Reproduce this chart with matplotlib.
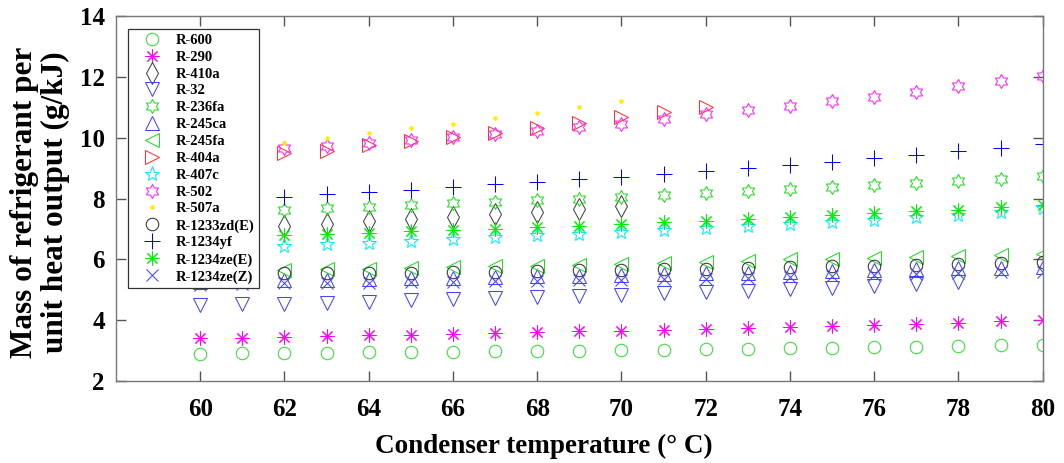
import numpy as np
import matplotlib
matplotlib.use("Agg")
import matplotlib.pyplot as plt
from matplotlib.path import Path

# condenser temperature (deg C)
temps = list(range(60, 81))

r600 = [2.90, 2.91, 2.92, 2.93, 2.94, 2.95, 2.96, 2.98, 2.99, 3.00, 3.02,
        3.03, 3.05, 3.06, 3.08, 3.09, 3.11, 3.13, 3.15, 3.17, 3.19]
r290 = [3.40, 3.43, 3.45, 3.48, 3.50, 3.53, 3.55, 3.58, 3.60, 3.63, 3.66,
        3.69, 3.72, 3.75, 3.78, 3.81, 3.85, 3.88, 3.92, 3.96, 4.00]
r410a = [7.00, 7.05, 7.10, 7.17, 7.25, 7.32, 7.40, 7.49, 7.57, 7.67, 7.77]
r32 = [4.50, 4.52, 4.55, 4.58, 4.61, 4.65, 4.69, 4.72, 4.76, 4.80, 4.84,
       4.88, 4.92, 4.97, 5.02, 5.07, 5.13, 5.19, 5.27]
r236fa = [7.50, 7.57, 7.64, 7.69, 7.74, 7.79, 7.84, 7.89, 7.95, 8.00, 8.06,
          8.12, 8.19, 8.26, 8.33, 8.39, 8.45, 8.52, 8.58, 8.65, 8.74]
r245ca = [5.27, 5.30, 5.32, 5.34, 5.36, 5.38, 5.40, 5.42, 5.44, 5.46, 5.49,
          5.51, 5.54, 5.57, 5.60, 5.63, 5.65, 5.68, 5.71, 5.73, 5.76]
r245fa = [5.60, 5.62, 5.65, 5.67, 5.70, 5.72, 5.74, 5.77, 5.80, 5.82, 5.85,
          5.88, 5.92, 5.96, 6.00, 6.03, 6.06, 6.09, 6.12, 6.15, 6.18]
r404a = [9.32, 9.40, 9.49, 9.57, 9.76, 9.90, 10.04, 10.17, 10.31, 10.49,
         10.69, 10.84, 11.03]
r407c = [6.35, 6.40, 6.44, 6.50, 6.55, 6.61, 6.67, 6.73, 6.79, 6.85, 6.91,
         6.97, 7.03, 7.10, 7.16, 7.23, 7.30, 7.38, 7.46, 7.56, 7.68]
r502 = [9.45, 9.55, 9.65, 9.74, 9.84, 9.94, 10.04, 10.14, 10.22, 10.36, 10.47,
        10.62, 10.77, 10.91, 11.05, 11.20, 11.35, 11.52, 11.70, 11.86, 12.04]
r507a = [9.55, 9.70, 9.84, 10.00, 10.15, 10.31, 10.47, 10.64, 10.83, 11.02, 11.21]
r1233zd = [5.52, 5.53, 5.54, 5.55, 5.56, 5.57, 5.59, 5.60, 5.62, 5.64, 5.66,
           5.68, 5.70, 5.72, 5.75, 5.77, 5.80, 5.83, 5.86, 5.89, 5.92]
r1234yf = [7.95, 8.00, 8.06, 8.14, 8.22, 8.30, 8.39, 8.47, 8.55, 8.63, 8.72,
           8.81, 8.91, 9.01, 9.11, 9.21, 9.32, 9.44, 9.57, 9.68, 9.80]
r1234zeE = [6.72, 6.76, 6.80, 6.84, 6.88, 6.92, 6.97, 7.01, 7.06, 7.11, 7.16,
            7.22, 7.28, 7.34, 7.40, 7.46, 7.52, 7.58, 7.64, 7.71, 7.79]
r1234zeZ = [5.17, 5.19, 5.21, 5.22, 5.24, 5.25, 5.27, 5.28, 5.30, 5.31, 5.33,
            5.35, 5.37, 5.40, 5.43, 5.46, 5.49, 5.52, 5.55, 5.58, 5.60]

labels = ['R-600', 'R-290', 'R-410a', 'R-32', 'R-236fa', 'R-245ca', 'R-245fa',
          'R-404a', 'R-407c', 'R-502', 'R-507a', 'R-1233zd(E)', 'R-1234yf',
          'R-1234ze(E)', 'R-1234ze(Z)']
series = [r600, r290, r410a, r32, r236fa, r245ca, r245fa, r404a, r407c,
          r502, r507a, r1233zd, r1234yf, r1234zeE, r1234zeZ]

# matlab-like marker shapes
hexagram = Path.unit_regular_star(6, 0.577)
asterisk = (8, 2, 0)
styles = [
    ('o', '#33dd33', 9),
    (asterisk, '#ff00ff', 10),
    ('d', '#444444', 11),
    ('v', '#4444ff', 10),
    (hexagram, '#22dd22', 10),
    ('^', '#4444ff', 10),
    ('<', '#22dd22', 10),
    ('>', '#ff3333', 10),
    ('*', '#00eeee', 11),
    (hexagram, '#ff22ff', 10),
    ('.', '#ffee00', 4.5),
    ('o', '#333333', 9),
    ('+', '#0000ff', 11),
    (asterisk, '#00ee00', 10),
    ('x', '#4444ff', 8),
]

plt.rcParams['font.family'] = ['Liberation Serif', 'DejaVu Serif']
plt.rcParams['font.weight'] = 'bold'

fig = plt.figure(figsize=(10.64, 4.63), dpi=100)
ax = fig.add_axes([0.109, 0.177, 0.871, 0.788])

for lab, vals, (m, c, ms) in zip(labels, series, styles):
    x = temps[:len(vals)]
    if m == '.':
        ax.plot(x, vals, linestyle='none', marker=m, color=c, ms=ms, label=lab)
    else:
        ax.plot(x, vals, linestyle='none', marker=m, markeredgecolor=c,
                markerfacecolor='none', ms=ms, mew=0.75, label=lab)

ax.set_xlim(58, 80)
ax.set_ylim(2, 14)
ax.set_xticks(range(60, 81, 2))
ax.set_yticks(range(2, 15, 2))
ax.tick_params(direction='in', length=7, width=1, color='#555555',
               top=True, right=True, labelsize=18, pad=8)
ax.tick_params(axis='x', pad=12)
for lbl in ax.get_xticklabels() + ax.get_yticklabels():
    lbl.set_fontweight('bold')
for sp in ax.spines.values():
    sp.set_color('#777777')
    sp.set_linewidth(1.0)

ax.set_xlabel('Condenser temperature (° C)', fontsize=19.5, fontweight='bold')
ax.xaxis.set_label_coords(0.462, -0.145)
ax.set_ylabel('Mass of refrigerant per\nunit heat output (g/kJ)', fontsize=22.5,
              fontweight='bold', linespacing=1.05)
ax.yaxis.set_label_coords(-0.050, 0.49)

leg = ax.legend(loc='upper left', bbox_to_anchor=(0.013, 0.964),
                borderaxespad=0, fancybox=False, framealpha=1,
                edgecolor='#333333', prop={'size': 10.5, 'weight': 'bold'},
                handlelength=2.7, handletextpad=0.3, labelspacing=0.25,
                borderpad=0.3)
leg.get_frame().set_linewidth(0.9)
leg.set_zorder(10)

fig.savefig('out.png', dpi=100)
